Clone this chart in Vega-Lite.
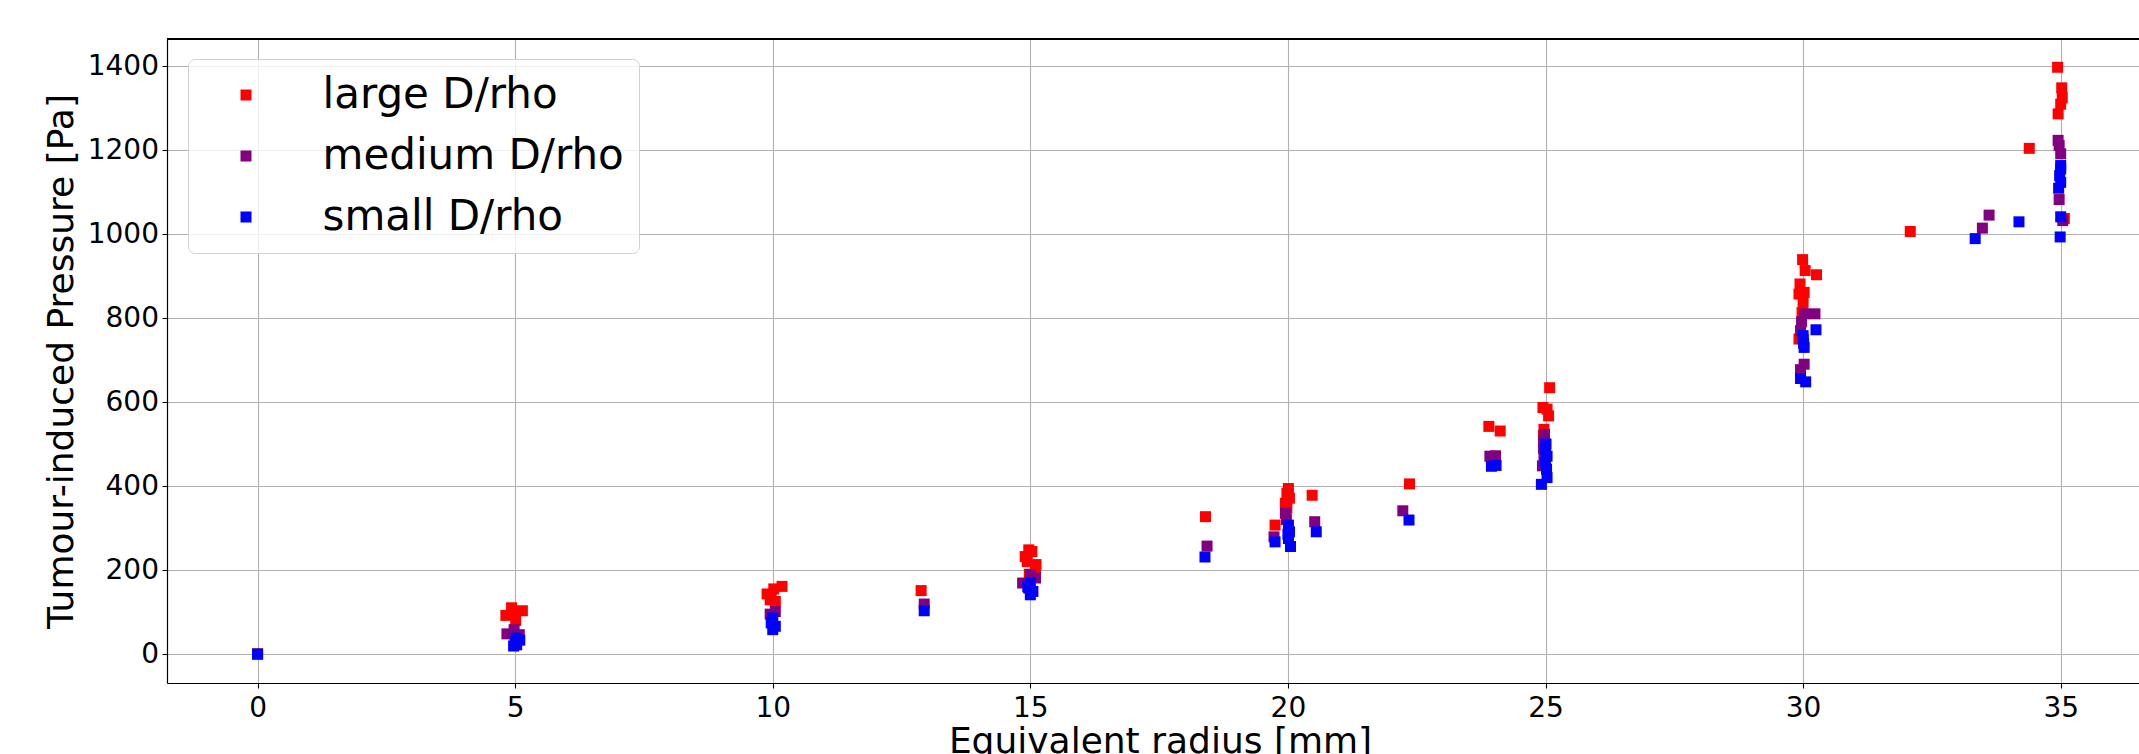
{
  "$schema": "https://vega.github.io/schema/vega-lite/v6.json",
  "autosize": {"type": "none"},
  "padding": {"left": 167, "top": 39, "right": 0, "bottom": 71},
  "width": 1972,
  "height": 644,
  "background": "white",
  "config": {
    "view": {"stroke": null},
    "font": "DejaVu Sans",
    "axis": {
      "labelFont": "DejaVu Sans",
      "labelFontSize": 28,
      "labelColor": "black",
      "titleFont": "DejaVu Sans",
      "titleFontSize": 36,
      "titleFontWeight": "normal",
      "titleColor": "black",
      "domainColor": "black",
      "domainWidth": 1.2,
      "tickColor": "black",
      "tickWidth": 1.1,
      "tickSize": 5,
      "gridColor": "#b0b0b0",
      "gridWidth": 1.1
    }
  },
  "data": {
    "values": [
      {"r": 0, "p": 0, "series": "large D/rho"},
      {"r": 4.93, "p": 110, "series": "large D/rho"},
      {"r": 5.14, "p": 103, "series": "large D/rho"},
      {"r": 4.82, "p": 92, "series": "large D/rho"},
      {"r": 4.97, "p": 95, "series": "large D/rho"},
      {"r": 5.01, "p": 80, "series": "large D/rho"},
      {"r": 10.18, "p": 161, "series": "large D/rho"},
      {"r": 10.02, "p": 155, "series": "large D/rho"},
      {"r": 9.89, "p": 143, "series": "large D/rho"},
      {"r": 9.95, "p": 129, "series": "large D/rho"},
      {"r": 10.05, "p": 125, "series": "large D/rho"},
      {"r": 9.97, "p": 138, "series": "large D/rho"},
      {"r": 12.88, "p": 151, "series": "large D/rho"},
      {"r": 14.97, "p": 248, "series": "large D/rho"},
      {"r": 15.03, "p": 244, "series": "large D/rho"},
      {"r": 14.9, "p": 232, "series": "large D/rho"},
      {"r": 14.94, "p": 220, "series": "large D/rho"},
      {"r": 15.11, "p": 213, "series": "large D/rho"},
      {"r": 15.1, "p": 201, "series": "large D/rho"},
      {"r": 14.98, "p": 190, "series": "large D/rho"},
      {"r": 18.4, "p": 327, "series": "large D/rho"},
      {"r": 20.01, "p": 394, "series": "large D/rho"},
      {"r": 19.98, "p": 383, "series": "large D/rho"},
      {"r": 20.03, "p": 371, "series": "large D/rho"},
      {"r": 19.95, "p": 359, "series": "large D/rho"},
      {"r": 19.98, "p": 347, "series": "large D/rho"},
      {"r": 19.75, "p": 307, "series": "large D/rho"},
      {"r": 20.47, "p": 378, "series": "large D/rho"},
      {"r": 22.36, "p": 405, "series": "large D/rho"},
      {"r": 23.9, "p": 542, "series": "large D/rho"},
      {"r": 24.12, "p": 531, "series": "large D/rho"},
      {"r": 25.08, "p": 634, "series": "large D/rho"},
      {"r": 24.95, "p": 587, "series": "large D/rho"},
      {"r": 25.03, "p": 583, "series": "large D/rho"},
      {"r": 25.06, "p": 567, "series": "large D/rho"},
      {"r": 24.97, "p": 535, "series": "large D/rho"},
      {"r": 24.96, "p": 520, "series": "large D/rho"},
      {"r": 24.98, "p": 495, "series": "large D/rho"},
      {"r": 29.99, "p": 939, "series": "large D/rho"},
      {"r": 30.04, "p": 913, "series": "large D/rho"},
      {"r": 30.26, "p": 903, "series": "large D/rho"},
      {"r": 29.94, "p": 881, "series": "large D/rho"},
      {"r": 30.02, "p": 861, "series": "large D/rho"},
      {"r": 29.92, "p": 857, "series": "large D/rho"},
      {"r": 30.0, "p": 837, "series": "large D/rho"},
      {"r": 29.98, "p": 813, "series": "large D/rho"},
      {"r": 29.92, "p": 750, "series": "large D/rho"},
      {"r": 32.08, "p": 1006, "series": "large D/rho"},
      {"r": 34.39, "p": 1204, "series": "large D/rho"},
      {"r": 34.94, "p": 1397, "series": "large D/rho"},
      {"r": 35.02, "p": 1348, "series": "large D/rho"},
      {"r": 35.03, "p": 1324, "series": "large D/rho"},
      {"r": 35.0, "p": 1309, "series": "large D/rho"},
      {"r": 34.95, "p": 1286, "series": "large D/rho"},
      {"r": 35.07, "p": 1037, "series": "large D/rho"},

      {"r": 0, "p": 0, "series": "medium D/rho"},
      {"r": 4.98, "p": 58, "series": "medium D/rho"},
      {"r": 4.84, "p": 48, "series": "medium D/rho"},
      {"r": 5.08, "p": 46, "series": "medium D/rho"},
      {"r": 10.05, "p": 101, "series": "medium D/rho"},
      {"r": 9.95, "p": 95, "series": "medium D/rho"},
      {"r": 12.94, "p": 119, "series": "medium D/rho"},
      {"r": 15.0, "p": 189, "series": "medium D/rho"},
      {"r": 14.85, "p": 169, "series": "medium D/rho"},
      {"r": 15.1, "p": 181, "series": "medium D/rho"},
      {"r": 18.43, "p": 257, "series": "medium D/rho"},
      {"r": 19.95, "p": 335, "series": "medium D/rho"},
      {"r": 19.73, "p": 279, "series": "medium D/rho"},
      {"r": 19.97, "p": 320, "series": "medium D/rho"},
      {"r": 20.52, "p": 315, "series": "medium D/rho"},
      {"r": 22.23, "p": 341, "series": "medium D/rho"},
      {"r": 23.92, "p": 471, "series": "medium D/rho"},
      {"r": 24.03, "p": 472, "series": "medium D/rho"},
      {"r": 24.98, "p": 523, "series": "medium D/rho"},
      {"r": 24.96, "p": 507, "series": "medium D/rho"},
      {"r": 24.96, "p": 490, "series": "medium D/rho"},
      {"r": 24.97, "p": 471, "series": "medium D/rho"},
      {"r": 24.94, "p": 448, "series": "medium D/rho"},
      {"r": 30.03, "p": 810, "series": "medium D/rho"},
      {"r": 30.23, "p": 810, "series": "medium D/rho"},
      {"r": 29.97, "p": 791, "series": "medium D/rho"},
      {"r": 29.95, "p": 770, "series": "medium D/rho"},
      {"r": 30.02, "p": 690, "series": "medium D/rho"},
      {"r": 29.95, "p": 677, "series": "medium D/rho"},
      {"r": 33.48, "p": 1014, "series": "medium D/rho"},
      {"r": 33.61, "p": 1045, "series": "medium D/rho"},
      {"r": 34.95, "p": 1223, "series": "medium D/rho"},
      {"r": 34.97, "p": 1211, "series": "medium D/rho"},
      {"r": 35.0, "p": 1191, "series": "medium D/rho"},
      {"r": 34.97, "p": 1082, "series": "medium D/rho"},
      {"r": 35.04, "p": 1032, "series": "medium D/rho"},

      {"r": 0, "p": 0, "series": "small D/rho"},
      {"r": 5.02, "p": 38, "series": "small D/rho"},
      {"r": 5.0, "p": 28, "series": "small D/rho"},
      {"r": 5.03, "p": 22, "series": "small D/rho"},
      {"r": 4.97, "p": 19, "series": "small D/rho"},
      {"r": 5.09, "p": 33, "series": "small D/rho"},
      {"r": 10.0, "p": 86, "series": "small D/rho"},
      {"r": 9.97, "p": 74, "series": "small D/rho"},
      {"r": 10.05, "p": 66, "series": "small D/rho"},
      {"r": 10.0, "p": 58, "series": "small D/rho"},
      {"r": 12.94, "p": 103, "series": "small D/rho"},
      {"r": 15.0, "p": 169, "series": "small D/rho"},
      {"r": 14.95, "p": 160, "series": "small D/rho"},
      {"r": 14.97, "p": 157, "series": "small D/rho"},
      {"r": 15.05, "p": 149, "series": "small D/rho"},
      {"r": 15.0, "p": 141, "series": "small D/rho"},
      {"r": 18.39, "p": 231, "series": "small D/rho"},
      {"r": 20.01, "p": 307, "series": "small D/rho"},
      {"r": 20.03, "p": 291, "series": "small D/rho"},
      {"r": 20.0, "p": 285, "series": "small D/rho"},
      {"r": 20.01, "p": 275, "series": "small D/rho"},
      {"r": 19.75, "p": 267, "series": "small D/rho"},
      {"r": 20.05, "p": 256, "series": "small D/rho"},
      {"r": 20.55, "p": 291, "series": "small D/rho"},
      {"r": 22.35, "p": 319, "series": "small D/rho"},
      {"r": 23.95, "p": 447, "series": "small D/rho"},
      {"r": 24.04, "p": 449, "series": "small D/rho"},
      {"r": 25.01, "p": 500, "series": "small D/rho"},
      {"r": 25.0, "p": 487, "series": "small D/rho"},
      {"r": 25.03, "p": 471, "series": "small D/rho"},
      {"r": 25.0, "p": 456, "series": "small D/rho"},
      {"r": 25.02, "p": 440, "series": "small D/rho"},
      {"r": 25.03, "p": 420, "series": "small D/rho"},
      {"r": 24.92, "p": 404, "series": "small D/rho"},
      {"r": 30.25, "p": 772, "series": "small D/rho"},
      {"r": 30.0, "p": 758, "series": "small D/rho"},
      {"r": 30.0, "p": 750, "series": "small D/rho"},
      {"r": 30.01, "p": 740, "series": "small D/rho"},
      {"r": 30.02, "p": 730, "series": "small D/rho"},
      {"r": 29.95, "p": 656, "series": "small D/rho"},
      {"r": 30.05, "p": 648, "series": "small D/rho"},
      {"r": 33.34, "p": 989, "series": "small D/rho"},
      {"r": 34.19, "p": 1029, "series": "small D/rho"},
      {"r": 35.0, "p": 1163, "series": "small D/rho"},
      {"r": 35.0, "p": 1155, "series": "small D/rho"},
      {"r": 34.98, "p": 1139, "series": "small D/rho"},
      {"r": 35.0, "p": 1123, "series": "small D/rho"},
      {"r": 34.96, "p": 1109, "series": "small D/rho"},
      {"r": 35.0, "p": 1041, "series": "small D/rho"},
      {"r": 34.99, "p": 993, "series": "small D/rho"}
    ]
  },
  "layer": [
    {
      "mark": {"type": "point", "shape": "square", "filled": true, "size": 121, "opacity": 1, "strokeWidth": 0},
      "encoding": {
        "x": {
          "field": "r", "type": "quantitative",
          "scale": {"domain": [-1.758, 36.52], "nice": false, "zero": false},
          "axis": {
            "title": "Equivalent radius [mm]",
            "values": [0, 5, 10, 15, 20, 25, 30, 35],
            "format": "d",
            "labelPadding": 6,
            "titleX": 993, "titleY": 69,
            "titleAlign": "center", "titleBaseline": "alphabetic",
            "titleAnchor": null
          }
        },
        "y": {
          "field": "p", "type": "quantitative",
          "scale": {"domain": [-69, 1464.3], "nice": false, "zero": false},
          "axis": {
            "title": "Tumour-induced Pressure [Pa]",
            "values": [0, 200, 400, 600, 800, 1000, 1200, 1400],
            "format": "d",
            "labelPadding": 3.5,
            "titleX": -95, "titleY": 322,
            "titleAlign": "center", "titleBaseline": "alphabetic",
            "titleAngle": -90
          }
        },
        "color": {
          "field": "series", "type": "nominal",
          "scale": {
            "domain": ["large D/rho", "medium D/rho", "small D/rho"],
            "range": ["#ff0000", "#800080", "#0000ff"]
          },
          "legend": {
            "title": null,
            "orient": "none",
            "legendX": 21,
            "legendY": 20,
            "direction": "vertical",
            "padding": 15,
            "rowPadding": 19,
            "symbolType": "square",
            "symbolSize": 121,
            "symbolStrokeWidth": 0,
            "symbolOffset": 22,
            "labelOffset": 55.5,
            "labelFont": "DejaVu Sans",
            "labelFontSize": 42,
            "labelColor": "black",
            "labelLimit": 600,
            "fillColor": "rgba(255,255,255,0.8)",
            "strokeColor": "#d0d0d0",
            "cornerRadius": 7
          }
        }
      }
    },
    {
      "mark": {"type": "rule", "color": "black", "strokeWidth": 1.2},
      "encoding": {"y": {"datum": 1464.3}}
    }
  ]
}
